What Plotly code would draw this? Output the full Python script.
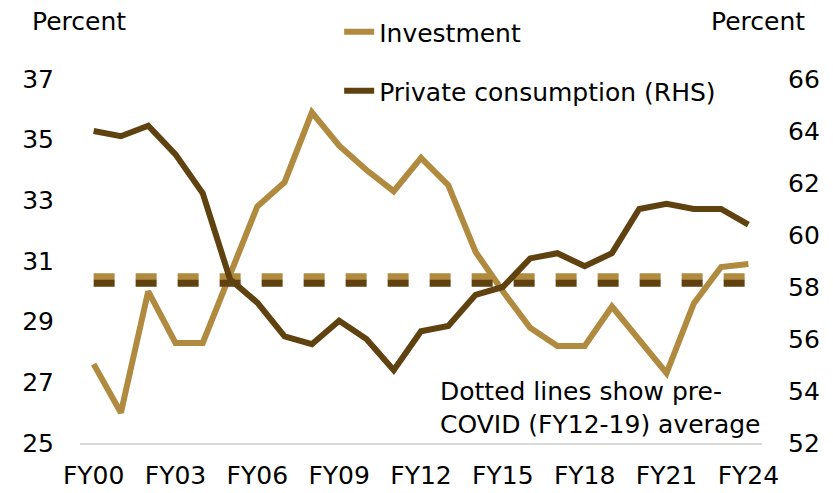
import plotly.graph_objects as go

# ---- data ----
years = ["FY00", "FY01", "FY02", "FY03", "FY04", "FY05", "FY06", "FY07", "FY08",
         "FY09", "FY10", "FY11", "FY12", "FY13", "FY14", "FY15", "FY16", "FY17",
         "FY18", "FY19", "FY20", "FY21", "FY22", "FY23", "FY24"]
investment = [27.6, 26.0, 30.0, 28.3, 28.3, 30.5, 32.8, 33.6, 35.9,
              34.8, 34.0, 33.3, 34.4, 33.5, 31.3, 30.0, 28.8, 28.2,
              28.2, 29.5, 28.4, 27.3, 29.6, 30.8, 30.9]
consumption = [64.0, 63.8, 64.2, 63.1, 61.6, 58.3, 57.4, 56.1, 55.8,
               56.7, 56.0, 54.8, 56.3, 56.5, 57.7, 58.0, 59.1, 59.3,
               58.8, 59.3, 61.0, 61.2, 61.0, 61.0, 60.4]
inv_avg = 30.48
cons_avg = 58.14
tick_years = ["FY00", "FY03", "FY06", "FY09", "FY12", "FY15", "FY18", "FY21", "FY24"]

gold = '#B08A3E'
brown = '#5F4210'
font_fam = 'DejaVu Sans'
fs = 25

fig = go.Figure()

# pre-covid averages (dashed)
fig.add_trace(go.Scatter(x=[years[0], years[-1]], y=[inv_avg, inv_avg],
                         mode='lines', line=dict(color=gold, width=7, dash='dash'),
                         showlegend=False, hoverinfo='skip'))
fig.add_trace(go.Scatter(x=[years[0], years[-1]], y=[cons_avg, cons_avg],
                         mode='lines', line=dict(color=brown, width=7, dash='dash'),
                         showlegend=False, hoverinfo='skip', yaxis='y2'))

fig.add_trace(go.Scatter(x=years, y=investment, name='Investment', mode='lines',
                         line=dict(color=gold, width=6), legend='legend'))
fig.add_trace(go.Scatter(x=years, y=consumption, name='Private consumption (RHS)',
                         mode='lines', line=dict(color=brown, width=6),
                         yaxis='y2', legend='legend2'))

# page body has an 8px margin, so the figure is a bit smaller than the window
fig.update_layout(
    width=825, height=485,
    margin=dict(l=72, r=71, t=71, b=50, autoexpand=False),
    plot_bgcolor='white', paper_bgcolor='white',
    font=dict(family=font_fam, size=fs, color='black'),
    xaxis=dict(type='category', categoryorder='array', categoryarray=years,
               range=[-0.5, 24.5], tickvals=tick_years, ticks='',
               showgrid=False, showline=True, linecolor='#D9D9D9', linewidth=2,
               ticklabelstandoff=9, zeroline=False),
    yaxis=dict(range=[25, 37], dtick=2, tick0=25, showgrid=False, zeroline=False,
               ticks='', ticklabelstandoff=25),
    yaxis2=dict(range=[52, 66], dtick=2, tick0=52, overlaying='y', side='right',
                showgrid=False, zeroline=False, ticks='', ticklabelstandoff=25),
    legend=dict(x=0.380, y=1.129, xanchor='left', yanchor='middle',
                bgcolor='rgba(0,0,0,0)', font=dict(size=fs)),
    legend2=dict(x=0.380, y=0.967, xanchor='left', yanchor='middle',
                 bgcolor='rgba(0,0,0,0)', font=dict(size=fs)),
    showlegend=True,
)

fig.add_annotation(text='Percent', xref='paper', yref='paper', x=-0.073, y=1.157,
                   xanchor='left', yanchor='middle', showarrow=False)
fig.add_annotation(text='Percent', xref='paper', yref='paper', x=1.066, y=1.157,
                   xanchor='right', yanchor='middle', showarrow=False)
fig.add_annotation(text='Dotted lines show pre-<br>COVID (FY12-19) average',
                   xref='paper', yref='paper', x=0.525, y=0.0975,
                   xanchor='left', yanchor='middle', align='left', showarrow=False)

fig.write_html("out.html")
